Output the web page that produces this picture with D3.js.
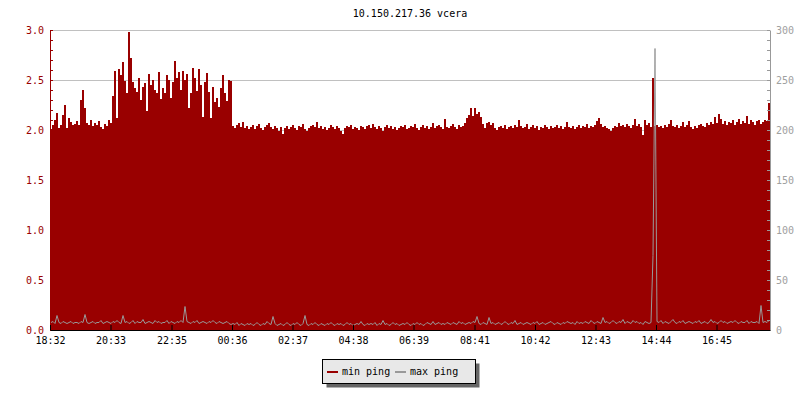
<!DOCTYPE html>
<html>
<head>
<meta charset="utf-8">
<script src="https://cdn.jsdelivr.net/npm/d3@7"></script>
<style>
  html, body { margin: 0; padding: 0; background: #fff; }
  svg { display: block; font-family: "DejaVu Sans Mono", monospace; font-size: 10px; }
</style>
</head>
<body>
<div id="chart"></div>
<script>
const title = '10.150.217.36 vcera'
const startTime = '18:32'
const stepMinutes = 4 // one sample every 4 min, 24 h in total
const timeLabels = ['18:32', '20:33', '22:35', '00:36', '02:37', '04:38', '06:39', '08:41', '10:42', '12:43', '14:44', '16:45']
const seriesNames = ['min ping', 'max ping']
const seriesColors = ['#990000', '#999999']

// min ping (left axis, 0 - 3)
const minPing = [
  2.01, 2.05, 2.10, 2.17, 2.02, 2.05, 2.15, 2.25, 2.02, 2.12, 2.08, 2.05, 2.06, 2.09, 2.05, 2.30, 2.40, 2.22, 2.07, 2.05,
  2.10, 2.04, 2.07, 2.05, 2.09, 2.03, 2.01, 2.06, 2.04, 2.10, 2.07, 2.34, 2.59, 2.12, 2.61, 2.55, 2.68, 2.49, 2.37, 2.98,
  2.72, 2.48, 2.42, 2.38, 2.52, 2.30, 2.43, 2.47, 2.19, 2.56, 2.45, 2.50, 2.40, 2.37, 2.58, 2.31, 2.42, 2.37, 2.55, 2.50,
  2.32, 2.48, 2.69, 2.52, 2.58, 2.40, 2.59, 2.50, 2.56, 2.22, 2.37, 2.62, 2.52, 2.39, 2.61, 2.45, 2.13, 2.48, 2.57, 2.38,
  2.12, 2.43, 2.28, 2.32, 2.23, 2.42, 2.55, 2.37, 2.29, 2.50, 2.49, 2.04, 2.02, 2.05, 2.07, 2.03, 2.08, 2.02, 2.04, 2.01,
  2.03, 2.05, 2.01, 2.04, 2.06, 2.02, 2.00, 2.03, 2.05, 2.07, 2.03, 2.01, 2.04, 2.02, 1.99, 2.03, 1.96, 2.02, 2.04, 2.01,
  2.03, 2.05, 2.02, 2.00, 2.04, 2.03, 2.06, 2.01, 1.99, 2.02, 2.04, 2.05, 2.03, 2.08, 2.02, 2.04, 2.01, 2.03, 2.00, 2.02,
  2.05, 2.03, 2.01, 2.04, 2.02, 1.99, 1.96, 2.02, 2.04, 2.03, 2.05, 2.01, 2.03, 2.02, 2.00, 2.04, 2.03, 2.01, 2.04, 2.05,
  2.02, 2.06, 2.03, 2.01, 2.04, 2.02, 1.99, 2.03, 2.05, 2.02, 2.04, 2.01, 2.03, 2.00, 2.02, 2.04, 2.03, 2.05, 2.01, 2.02,
  2.04, 2.03, 2.06, 2.02, 2.00, 2.03, 2.05, 2.02, 2.04, 2.01, 2.03, 2.07, 2.02, 2.04, 2.05, 2.03, 2.01, 2.11, 2.03, 2.02,
  2.04, 2.06, 2.03, 2.01, 2.05, 2.03, 2.04, 2.07, 2.12, 2.15, 2.22, 2.14, 2.22, 2.16, 2.18, 2.13, 2.06, 2.02, 2.07, 2.08,
  2.05, 2.07, 2.02, 2.00, 2.03, 2.04, 2.02, 2.05, 2.01, 2.03, 2.04, 2.02, 2.05, 2.03, 2.10, 2.04, 2.02, 2.03, 2.06, 2.01,
  2.03, 2.05, 2.02, 2.04, 2.00, 2.03, 2.02, 2.05, 2.03, 2.01, 2.04, 2.02, 2.03, 2.05, 2.02, 2.04, 2.01, 2.03, 2.08, 2.03,
  2.02, 2.04, 2.01, 2.03, 2.05, 2.02, 2.04, 2.03, 2.06, 2.02, 2.04, 2.03, 2.05, 2.09, 2.12, 2.06, 2.03, 2.04, 2.02, 2.01,
  1.99, 2.02, 2.04, 2.03, 2.07, 2.04, 2.05, 2.03, 2.06, 2.04, 2.02, 2.05, 2.11, 2.04, 2.06, 2.03, 1.95, 2.10, 2.05, 2.07,
  2.03, 2.52, 2.04, 2.05, 2.03, 2.04, 2.02, 2.05, 2.03, 2.06, 2.10, 2.04, 2.03, 2.05, 2.02, 2.04, 2.08, 2.03, 2.05, 2.09,
  2.03, 2.01, 2.04, 2.02, 2.05, 2.06, 2.04, 2.03, 2.07, 2.05, 2.08, 2.06, 2.13, 2.07, 2.16, 2.11, 2.06, 2.09, 2.05, 2.08,
  2.07, 2.10, 2.05, 2.08, 2.11, 2.06, 2.09, 2.07, 2.14, 2.06, 2.10, 2.08, 2.05, 2.09, 2.10, 2.06, 2.08, 2.10, 2.09, 2.27
]

// max ping (right axis, 0 - 300)
const maxPing = [
  8, 9, 7, 15, 8, 7, 9, 8, 7, 8, 9, 7, 8, 8, 7, 9, 8, 16, 8, 7,
  8, 9, 7, 8, 8, 10, 7, 8, 9, 8, 7, 9, 8, 10, 8, 7, 15, 8, 9, 7,
  8, 10, 7, 9, 8, 8, 11, 7, 8, 9, 8, 7, 10, 8, 9, 7, 8, 8, 10, 7,
  9, 8, 7, 9, 8, 10, 8, 24, 9, 8, 7, 9, 8, 10, 7, 8, 9, 8, 7, 9,
  8, 10, 8, 7, 9, 8, 7, 8, 9, 7, 6, 7, 6, 8, 5, 7, 6, 5, 7, 6,
  7, 5, 6, 8, 6, 5, 7, 6, 9, 7, 6, 14, 7, 5, 6, 7, 5, 6, 8, 6,
  5, 7, 6, 8, 6, 5, 7, 15, 6, 5, 7, 6, 8, 6, 5, 7, 6, 5, 7, 6,
  8, 6, 5, 7, 6, 7, 5, 6, 8, 6, 7, 5, 6, 7, 6, 9, 6, 5, 7, 6,
  7, 6, 8, 5, 7, 6, 10, 6, 7, 5, 6, 8, 6, 7, 5, 6, 7, 6, 8, 6,
  5, 7, 6, 8, 6, 7, 5, 6, 8, 7, 6, 9, 6, 7, 8, 6, 7, 6, 8, 7,
  6, 8, 7, 6, 9, 7, 8, 6, 7, 8, 7, 9, 8, 14, 7, 6, 8, 7, 6, 13,
  7, 8, 6, 7, 8, 6, 7, 9, 7, 6, 8, 7, 10, 6, 7, 8, 6, 7, 8, 7,
  6, 8, 7, 9, 6, 7, 8, 6, 7, 8, 9, 7, 6, 8, 7, 6, 8, 7, 9, 8,
  7, 8, 6, 9, 7, 8, 7, 9, 8, 7, 10, 8, 7, 9, 8, 7, 13, 8, 9, 7,
  8, 10, 8, 7, 9, 8, 11, 7, 9, 8, 7, 10, 8, 9, 7, 8, 6, 9, 8, 7,
  8, 75, 282, 9, 8, 10, 7, 9, 8, 7, 9, 11, 8, 7, 9, 8, 10, 7, 8, 9,
  8, 7, 9, 8, 10, 7, 8, 9, 7, 8, 11, 8, 9, 7, 8, 10, 8, 9, 7, 8,
  9, 8, 10, 8, 7, 9, 8, 8, 10, 7, 9, 8, 8, 9, 7, 25, 8, 9, 8, 10
]

const width = 800
const height = 400
const padding = { top: 30, left: 50, right: 30, bottom: 70 }
const plotW = width - padding.left - padding.right
const plotH = height - padding.top - padding.bottom

const svg = d3.select('#chart').append('svg')
  .attr('width', width).attr('height', height)

// time
const parseHM = d3.timeParse('%Y-%m-%d %H:%M')
const t0 = parseHM('2023-05-01 ' + startTime)
const times = minPing.map((d, i) => d3.timeMinute.offset(t0, i * stepMinutes))
const tEnd = d3.timeMinute.offset(t0, minPing.length * stepMinutes)

// label -> date, rolling over midnight
let prev = t0
const tickDates = timeLabels.map(s => {
  let d = parseHM('2023-05-01 ' + s)
  while (d < prev) d = d3.timeDay.offset(d, 1)
  prev = d
  return d
})

const x = d3.scaleTime().domain([t0, tEnd]).range([padding.left, padding.left + plotW])
const yL = d3.scaleLinear().domain([0, 3]).range([padding.top + plotH, padding.top])
const yR = d3.scaleLinear().domain([0, 300]).range([padding.top + plotH, padding.top])

// title
svg.append('text')
  .attr('x', padding.left + plotW / 2)
  .attr('y', 17)
  .attr('text-anchor', 'middle')
  .attr('fill', '#000')
  .text(title)

// grid lines
svg.append('g').attr('class', 'grid')
  .selectAll('line')
  .data(d3.range(1, 7).map(d => d * 0.5))
  .join('line')
  .attr('x1', padding.left).attr('x2', padding.left + plotW)
  .attr('y1', d => Math.round(yL(d)) + 0.5).attr('y2', d => Math.round(yL(d)) + 0.5)
  .attr('stroke', '#c0c0c0')

// clip
svg.append('clipPath').attr('id', 'plotClip')
  .append('rect')
  .attr('x', padding.left).attr('y', padding.top)
  .attr('width', plotW).attr('height', plotH)

const plot = svg.append('g').attr('clip-path', 'url(#plotClip)')

// min ping area, step per sample
const areaData = minPing.map((v, i) => ({ t: times[i], v }))
areaData.push({ t: tEnd, v: minPing[minPing.length - 1] })

const area = d3.area()
  .x(d => x(d.t))
  .y0(yL(0))
  .y1(d => yL(d.v))
  .curve(d3.curveStepAfter)

plot.append('path')
  .datum(areaData)
  .attr('fill', seriesColors[0])
  .attr('d', area)

// max ping line
const line = d3.line()
  .x((d, i) => x(times[i]) + (x(times[1]) - x(times[0])) / 2)
  .y(d => yR(d) + 0.5)

plot.append('path')
  .datum(maxPing)
  .attr('fill', 'none')
  .attr('stroke', seriesColors[1])
  .attr('stroke-width', 1)
  .attr('d', line)

// axes
const fmt = d3.format('.1f')
const leftAxis = d3.axisLeft(yL)
  .tickValues(d3.range(0, 31).map(d => d / 10))
  .tickFormat(d => Math.round(d * 10) % 5 === 0 ? fmt(d) : '')
  .tickSizeInner(-3).tickSizeOuter(0).tickPadding(6)

const gL = svg.append('g')
  .attr('transform', `translate(${padding.left},0)`)
  .call(leftAxis)
gL.selectAll('path, line').attr('stroke', seriesColors[0])
gL.selectAll('text').attr('fill', seriesColors[0]).style('font-family', null).style('font-size', null)
gL.attr('font-family', null).attr('font-size', null)

const rightAxis = d3.axisRight(yR)
  .tickValues(d3.range(0, 31).map(d => d * 10))
  .tickFormat(d => d % 50 === 0 ? d : '')
  .tickSizeInner(-3).tickSizeOuter(0).tickPadding(6)

const gR = svg.append('g')
  .attr('transform', `translate(${padding.left + plotW},0)`)
  .call(rightAxis)
gR.selectAll('path, line').attr('stroke', seriesColors[1])
gR.selectAll('text').attr('fill', '#a0a0a0')
gR.attr('font-family', null).attr('font-size', null)

const bottomAxis = d3.axisBottom(x)
  .tickValues(tickDates)
  .tickFormat((d, i) => timeLabels[i])
  .tickSizeInner(-5).tickSizeOuter(0).tickPadding(7)

const gB = svg.append('g')
  .attr('transform', `translate(0,${padding.top + plotH})`)
  .call(bottomAxis)
gB.selectAll('path, line').attr('stroke', '#000')
gB.selectAll('text').attr('fill', '#000')
gB.attr('font-family', null).attr('font-size', null)

// legend
const lg = svg.append('g').attr('class', 'legend')
const lgX = 322.5, lgY = 359.5, lgW = 153, lgH = 24
lg.append('rect')
  .attr('x', lgX + 4).attr('y', lgY + 4)
  .attr('width', lgW).attr('height', lgH)
  .attr('fill', '#666')
lg.append('rect')
  .attr('x', lgX).attr('y', lgY)
  .attr('width', lgW).attr('height', lgH)
  .attr('fill', '#e8e8e8')
  .attr('stroke', '#000')

const legendItems = seriesNames.map((name, i) => ({ name, color: seriesColors[i] }))
const itemX = [327, 395]
legendItems.forEach((d, i) => {
  lg.append('line')
    .attr('x1', itemX[i]).attr('x2', itemX[i] + 11)
    .attr('y1', 372).attr('y2', 372)
    .attr('stroke', d.color).attr('stroke-width', 2)
  lg.append('text')
    .attr('x', itemX[i] + 15).attr('y', 375)
    .attr('fill', '#000')
    .text(d.name)
})
</script>
</body>
</html>
